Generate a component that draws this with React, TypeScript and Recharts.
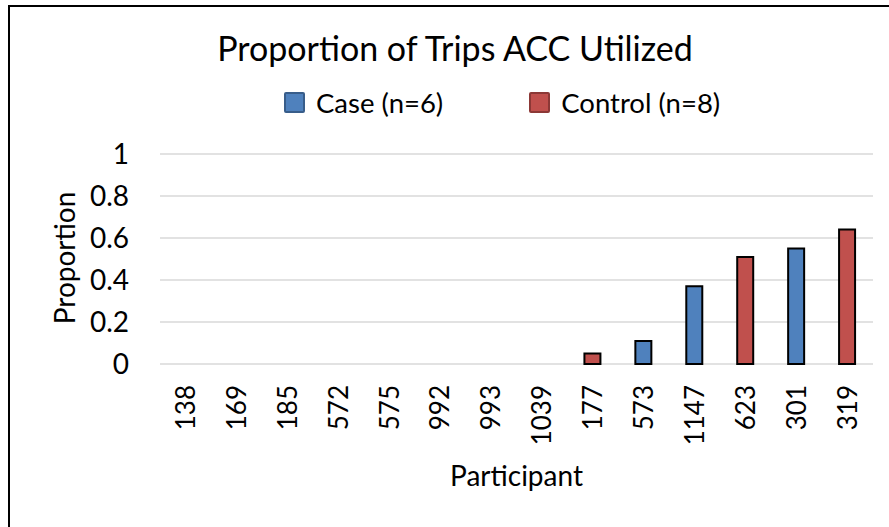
import { BarChart, Bar, XAxis, YAxis, CartesianGrid } from "recharts";

const participants = ["138", "169", "185", "572", "575", "992", "993", "1039", "177", "573", "1147", "623", "301", "319"];
const caseValues = [0, 0, 0, 0, 0, 0, 0, 0, 0, 0.11, 0.37, 0, 0.55, 0];
const controlValues = [0, 0, 0, 0, 0, 0, 0, 0, 0.05, 0, 0, 0.51, 0, 0.64];
const yTicks = [0, 0.2, 0.4, 0.6, 0.8, 1];

const CASE_COLOR = "#4F81BD";
const CONTROL_COLOR = "#C0504D";
const FONT = "Lato, 'Open Sans', sans-serif";

const data = participants.map((p, i) => ({
  participant: p,
  caseP: caseValues[i],
  controlP: controlValues[i],
}));

function RotatedTick(props: any) {
  const { x, y, payload } = props;
  return (
    <text
      x={x}
      y={y}
      transform={`rotate(-90, ${x}, ${y})`}
      textAnchor="end"
      dy="0.36em"
      fill="#000"
      fontSize={26}
      fontFamily={FONT}
    >
      {payload.value}
    </text>
  );
}

function LegendItem({ color, border, label }: { color: string; border: string; label: string }) {
  return (
    <div style={{ display: "flex", alignItems: "center" }}>
      <span
        style={{
          width: 17,
          height: 17,
          background: color,
          border: `2px solid ${border}`,
          borderRadius: 2,
          marginRight: 11,
        }}
      />
      <span style={{ fontSize: 27.5 }}>{label}</span>
    </div>
  );
}

export default function App() {
  return (
    <div
      style={{
        position: "absolute",
        left: 0,
        top: 0,
        width: 889,
        height: 527,
        background: "#fff",
        fontFamily: FONT,
        color: "#000",
        overflow: "hidden",
      }}
    >
      <div style={{ position: "absolute", left: 8, top: 5, right: 0, bottom: 0, borderTop: "2px solid #000", borderLeft: "2px solid #000" }} />
      <div style={{ position: "absolute", left: 0, width: 910, top: 28, textAlign: "center", fontSize: 34, lineHeight: "40px" }}>
        Proportion of Trips ACC Utilized
      </div>
      <div style={{ position: "absolute", left: 284, top: 86, display: "flex", gap: 86 }}>
        <LegendItem color={CASE_COLOR} border="#385D8A" label="Case (n=6)" />
        <LegendItem color={CONTROL_COLOR} border="#8C3836" label="Control (n=8)" />
      </div>
      <div
        style={{
          position: "absolute",
          left: 64,
          top: 258,
          transform: "translate(-50%, -50%) rotate(-90deg)",
          fontSize: 28,
          whiteSpace: "nowrap",
        }}
      >
        Proportion
      </div>
      <div style={{ position: "absolute", left: 160, width: 713, top: 458, textAlign: "center", fontSize: 28 }}>
        Participant
      </div>
      <div style={{ position: "absolute", left: 0, top: 0 }}>
        <BarChart width={889} height={527} data={data} margin={{ top: 154, right: 16, bottom: 0, left: 0 }}>
          <CartesianGrid vertical={false} stroke="#D9D9D9" strokeWidth={1.5} />
          <XAxis
            dataKey="participant"
            axisLine={false}
            tickLine={false}
            tickSize={0}
            tickMargin={21}
            height={163}
            interval={0}
            tick={<RotatedTick />}
          />
          <YAxis
            width={160}
            domain={[0, 1]}
            ticks={yTicks}
            axisLine={false}
            tickLine={false}
            tickSize={0}
            tickMargin={31}
            tick={{ fill: "#000", fontSize: 28, fontFamily: FONT }}
          />
          <Bar dataKey="caseP" stackId="p" fill={CASE_COLOR} stroke="#000" strokeWidth={2} barSize={16} isAnimationActive={false} />
          <Bar dataKey="controlP" stackId="p" fill={CONTROL_COLOR} stroke="#000" strokeWidth={2} barSize={16} isAnimationActive={false} />
        </BarChart>
      </div>
    </div>
  );
}
